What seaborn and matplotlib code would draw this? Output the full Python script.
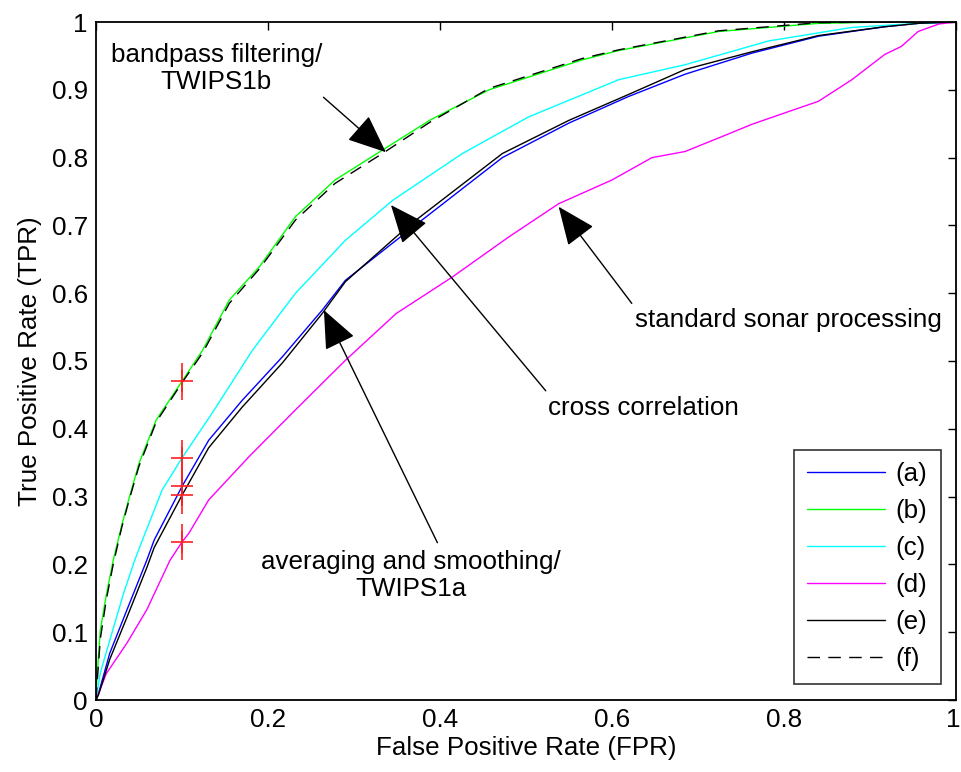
import numpy as np
import pandas as pd
import matplotlib
matplotlib.use("Agg")
import matplotlib.pyplot as plt
import matplotlib.transforms as mtransforms
import seaborn as sns

# ROC curves (false positive rate, true positive rate) for each processing chain
fpr_a = [0, 0.003, 0.016, 0.036, 0.059, 0.0677, 0.1, 0.131, 0.17, 0.2166, 0.263, 0.29,
         0.364, 0.4725, 0.55, 0.619, 0.685, 0.7625, 0.84, 0.917, 0.956, 1.0]
tpr_a = [0, 0.01, 0.069, 0.133, 0.206, 0.236, 0.315, 0.383, 0.442, 0.506, 0.575, 0.619,
         0.693, 0.80, 0.851, 0.89, 0.923, 0.954, 0.979, 0.993, 0.998, 1.0]

fpr_b = [0, 0.001, 0.005, 0.012, 0.02, 0.03, 0.039, 0.05, 0.07, 0.1, 0.124, 0.155, 0.19,
         0.232, 0.278, 0.333, 0.388, 0.457, 0.565, 0.608, 0.724, 0.84, 0.92, 1.0]
tpr_b = [0, 0.03, 0.103, 0.155, 0.206, 0.258, 0.30, 0.349, 0.413, 0.47, 0.516, 0.59, 0.639,
         0.713, 0.767, 0.811, 0.855, 0.90, 0.944, 0.958, 0.986, 0.998, 1.0, 1.0]

fpr_c = [0, 0.005, 0.016, 0.032, 0.045, 0.054, 0.077, 0.1, 0.135, 0.182, 0.232, 0.29,
         0.345, 0.426, 0.503, 0.608, 0.685, 0.782, 0.879, 0.956, 1.0]
tpr_c = [0, 0.04, 0.088, 0.157, 0.206, 0.236, 0.31, 0.357, 0.423, 0.516, 0.60, 0.678,
         0.737, 0.806, 0.86, 0.915, 0.937, 0.972, 0.992, 0.998, 1.0]

fpr_d = [0, 0.012, 0.036, 0.059, 0.086, 0.1, 0.108, 0.131, 0.178, 0.232, 0.29, 0.349,
         0.4145, 0.48, 0.538, 0.60, 0.6465, 0.685, 0.724, 0.7625, 0.801, 0.84, 0.879,
         0.917, 0.9365, 0.956, 0.98, 1.0]
tpr_d = [0, 0.039, 0.084, 0.133, 0.206, 0.233, 0.246, 0.295, 0.359, 0.428, 0.501, 0.570,
         0.624, 0.683, 0.732, 0.767, 0.80, 0.809, 0.829, 0.849, 0.866, 0.883, 0.915,
         0.952, 0.964, 0.986, 0.997, 1.0]

fpr_e = [0, 0.003, 0.016, 0.036, 0.059, 0.0677, 0.1, 0.131, 0.17, 0.2166, 0.263, 0.29,
         0.364, 0.4725, 0.55, 0.619, 0.685, 0.7625, 0.84, 0.917, 0.956, 1.0]
tpr_e = [0, 0.008, 0.06, 0.122, 0.195, 0.225, 0.302, 0.372, 0.432, 0.497, 0.57, 0.617,
         0.70, 0.806, 0.855, 0.893, 0.93, 0.956, 0.98, 0.993, 0.998, 1.0]

fpr_f = [0, 0.001, 0.005, 0.012, 0.02, 0.03, 0.039, 0.05, 0.07, 0.1, 0.124, 0.155, 0.19,
         0.232, 0.278, 0.333, 0.388, 0.457, 0.565, 0.608, 0.724, 0.84, 0.92, 1.0]
tpr_f = [0, 0.02, 0.09, 0.148, 0.20, 0.255, 0.297, 0.345, 0.41, 0.468, 0.512, 0.585, 0.636,
         0.708, 0.762, 0.806, 0.852, 0.902, 0.946, 0.959, 0.987, 0.999, 1.0, 1.0]

labels = ["(a)", "(b)", "(c)", "(d)", "(e)", "(f)"]

# operating points at FPR = 0.1
op_fpr = [0.1, 0.1, 0.1, 0.1, 0.1]
op_tpr = [0.47, 0.357, 0.315, 0.233, 0.302]

x_ticks = [0, 0.2, 0.4, 0.6, 0.8, 1]
x_ticklabels = ["0", "0.2", "0.4", "0.6", "0.8", "1"]
y_ticks = [0, 0.1, 0.2, 0.3, 0.4, 0.5, 0.6, 0.7, 0.8, 0.9, 1]
y_ticklabels = ["0", "0.1", "0.2", "0.3", "0.4", "0.5", "0.6", "0.7", "0.8", "0.9", "1"]

curves = [(fpr_a, tpr_a), (fpr_b, tpr_b), (fpr_c, tpr_c),
          (fpr_d, tpr_d), (fpr_e, tpr_e), (fpr_f, tpr_f)]
frames = []
for lab, (fx, ty) in zip(labels, curves):
    frames.append(pd.DataFrame({"FPR": fx, "TPR": ty, "method": lab}))
df = pd.concat(frames, ignore_index=True)

FS = 18.7
sns.set_style("white")
plt.rcParams["font.family"] = ["Liberation Sans", "DejaVu Sans"]
plt.rcParams["font.size"] = FS
plt.rcParams["text.color"] = "black"
plt.rcParams["axes.labelcolor"] = "black"

fig = plt.figure(figsize=(9.62, 7.72), dpi=100)
ax = fig.add_axes([96 / 962, 72 / 772, 860 / 962, 678 / 772])

palette = {"(a)": "#0000ff", "(b)": "#00ff00", "(c)": "#00ffff",
           "(d)": "#ff00ff", "(e)": "#000000", "(f)": "#000000"}
dashes = {"(a)": "", "(b)": "", "(c)": "", "(d)": "", "(e)": "", "(f)": (9, 6)}

sns.lineplot(data=df, x="FPR", y="TPR", hue="method", style="method",
             palette=palette, dashes=dashes, sort=False, estimator=None,
             units="method", linewidth=1.0, ax=ax, legend=True)

# operating points
ax.errorbar(op_fpr, op_tpr, yerr=0.027, fmt="+", color="#ff2020", ms=16.5,
            mew=1.2, elinewidth=1.2, capsize=0, zorder=5)

ax.set_xlim(0, 1)
ax.set_ylim(0, 1)
ax.set_xticks(x_ticks)
ax.set_xticklabels(x_ticklabels)
ax.set_yticks(y_ticks)
ax.set_yticklabels(y_ticklabels)
ax.set_xlabel("False Positive Rate (FPR)", fontsize=FS, labelpad=3)
ax.set_ylabel("True Positive Rate (TPR)", fontsize=FS, labelpad=7)
ax.tick_params(direction="in", length=6, width=1.0, top=True, right=True,
               labelsize=FS, colors="black", pad=6)
for sp in ax.spines.values():
    sp.set_visible(True)
    sp.set_color("black")
    sp.set_linewidth(1.3)

# keep the last x tick label inside the figure
last = ax.get_xticklabels()[-1]
last.set_transform(last.get_transform() +
                   mtransforms.ScaledTranslation(-3 / 100, 0, fig.dpi_scale_trans))

leg = ax.legend(loc="lower right", bbox_to_anchor=(0.982, 0.023), fontsize=FS,
                handlelength=3.0, frameon=True, fancybox=False, borderpad=0.5,
                labelspacing=0.5, handletextpad=0.4, borderaxespad=0)
leg.get_frame().set_edgecolor("black")
leg.get_frame().set_linewidth(1.2)
for line in leg.get_lines():
    line.set_linewidth(1.0)

arrow = dict(arrowstyle="-|>,head_length=0.9,head_width=0.38", color="black",
             lw=1.0, mutation_scale=27, shrinkA=0, shrinkB=0)

ax.text(0.14, 0.932, "bandpass filtering/\nTWIPS1b", ha="center", va="center",
        fontsize=FS, linespacing=1.15)
ax.annotate("", xy=(0.337, 0.808), xytext=(0.2645, 0.889), arrowprops=arrow)

ax.annotate("", xy=(0.343, 0.730), xytext=(0.523, 0.456), arrowprops=arrow)
ax.text(0.636, 0.431, "cross correlation", ha="center", va="center", fontsize=FS)

ax.annotate("", xy=(0.538, 0.7275), xytext=(0.623, 0.585), arrowprops=arrow)
ax.text(0.805, 0.56, "standard sonar processing", ha="center", va="center", fontsize=FS)

ax.annotate("", xy=(0.265, 0.575), xytext=(0.397, 0.232), arrowprops=arrow)
ax.text(0.366, 0.184, "averaging and smoothing/\nTWIPS1a", ha="center", va="center",
        fontsize=FS, linespacing=1.15)

fig.savefig("out.png", dpi=100)
